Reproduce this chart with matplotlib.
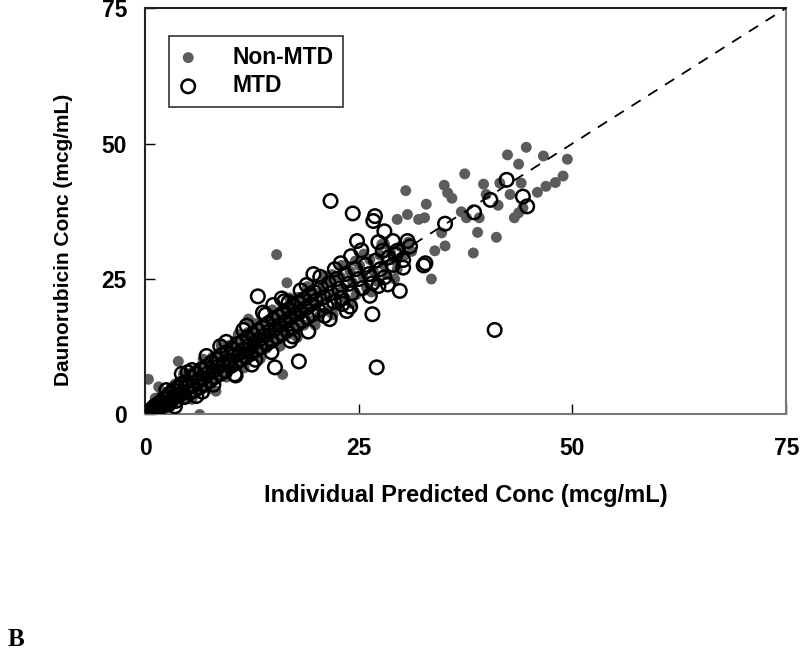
import matplotlib
matplotlib.use('Agg')
import matplotlib.pyplot as plt

plt.rcParams['font.family'] = ['Liberation Sans', 'DejaVu Sans']
plt.rcParams['font.weight'] = 'bold'
plt.rcParams['xtick.direction'] = 'in'
plt.rcParams['ytick.direction'] = 'in'
plt.rcParams['xtick.major.pad'] = 16
plt.rcParams['ytick.major.pad'] = 13

# Non-MTD (filled grey): individual predicted vs observed
nonmtd_pred = [0.1, 0.2, 0.3, 0.4, 0.5, 0.6, 0.8, 0.9, 1.0, 1.1, 1.3, 1.4, 1.6, 1.7, 1.9, 2.1, 2.2, 2.4, 2.6, 2.7, 2.9,
               0.4, 1.6, 3.9, 6.4, 5.9, 8.3, 9.0, 3.8, 1.2, 2.5,
               3.1, 3.3, 3.5, 3.7, 4.0, 4.2, 4.4, 4.6, 4.8, 5.0, 5.2, 5.4, 5.6, 5.8, 6.1, 6.3, 6.5, 6.7, 6.9, 7.1,
               7.3, 7.5, 7.7, 7.9, 8.1, 8.4, 8.6, 8.8, 9.2, 9.4, 9.6, 9.8,
               10.1, 10.3, 10.5, 10.8, 11.0, 11.3, 11.5, 11.8, 12.0, 12.3, 12.5, 12.8, 13.0, 13.3, 13.6, 13.9,
               14.2, 14.4, 14.7, 15.0, 15.3, 15.6, 15.9, 16.2, 16.5, 16.8, 17.1, 17.4, 17.7, 18.0, 18.3, 18.6,
               18.9, 19.2, 19.5, 19.8,
               20.1, 20.4, 20.8, 21.1, 21.4, 21.8, 22.1, 22.5, 22.9, 23.2, 23.6, 24.0, 24.3, 24.7, 25.1, 25.5,
               25.9, 26.3, 26.7, 27.1, 27.5, 27.9, 28.3, 28.7, 29.1, 29.5, 29.9, 30.3, 30.8, 31.2,
               12.1, 15.4, 16.6, 16.1, 30.5, 29.5, 30.7, 32.0, 32.7, 32.9, 33.5, 33.9, 34.7, 35.1,
               35.0, 35.4, 35.9, 37.0, 37.4, 37.6, 38.4, 38.9, 39.1, 39.6, 39.9, 41.1, 41.3, 41.5,
               42.4, 42.7, 43.2, 43.7, 43.7, 44.0, 44.2, 44.6, 45.9, 46.6, 46.9, 48.0, 48.9, 49.4,
               7.0, 10.6, 13.4, 17.9, 21.9, 24.6, 27.7,
               2.0, 3.0, 4.5, 5.5, 6.8, 7.5, 8.9, 9.5, 10.9, 11.6, 12.7, 13.5, 14.9, 15.8, 16.9, 17.8,
               19.0, 19.9, 21.0, 22.0, 23.0, 24.2, 25.6, 26.5, 28.0, 29.2]
nonmtd_obs = [0.2, 0.1, 0.6, 0.3, 1.0, 0.4, 1.5, 0.6, 1.8, 0.9, 2.3, 1.1, 2.8, 1.4, 2.2, 3.4, 1.8, 3.0, 4.0, 2.1, 3.2,
              6.5, 5.1, 9.8, 0.0, 4.0, 4.3, 8.2, 3.1, 3.0, 1.2,
              4.9, 3.0, 5.6, 2.8, 6.0, 4.1, 2.9, 6.7, 4.4, 7.1, 5.0, 3.9, 7.9, 5.5, 8.4, 6.2, 4.9, 9.2, 6.8, 5.6,
              9.9, 7.6, 6.1, 10.6, 8.3, 6.8, 11.3, 9.0, 12.0, 9.6, 8.0, 12.7,
              10.4, 8.7, 13.6, 11.0, 9.4, 14.3, 11.9, 10.0, 15.1, 12.6, 10.9, 15.7, 13.4, 11.5, 16.6, 14.2,
              12.2, 17.4, 15.1, 13.2, 18.1, 16.0, 13.9, 19.0, 16.9, 14.8, 19.8, 17.7, 15.6, 20.6, 18.6, 16.5,
              21.5, 19.5, 17.3, 22.4,
              20.4, 18.2, 23.3, 21.3, 19.1, 24.4, 22.2, 20.0, 25.3, 23.2, 21.2, 26.4, 24.3, 22.1, 27.5, 25.4,
              23.4, 28.6, 26.5, 24.6, 29.4, 27.6, 25.8, 30.1, 28.5, 26.8, 31.0, 29.3, 31.8, 30.1,
              17.6, 29.5, 24.3, 7.4, 41.3, 36.0, 36.9, 36.0, 36.3, 38.8, 25.0, 30.2, 33.5, 31.1,
              42.3, 40.9, 39.9, 37.4, 44.4, 36.3, 29.8, 33.6, 36.3, 42.5, 40.6, 32.7, 38.6, 42.7,
              47.9, 40.6, 36.3, 46.2, 37.2, 42.7, 38.1, 49.3, 41.0, 47.7, 42.1, 42.8, 44.0, 47.1,
              9.6, 13.5, 16.9, 21.6, 25.8, 28.3, 31.4,
              4.2, 1.5, 7.5, 2.8, 10.2, 4.8, 12.8, 6.9, 14.8, 8.6, 16.8, 10.3, 19.3, 12.6, 21.5, 14.2,
              23.6, 16.5, 25.5, 18.4, 27.5, 20.5, 29.6, 22.6, 31.5, 25.0]

# MTD (open circles)
mtd_pred = [0.2, 0.3, 0.5, 0.7, 0.8, 1.0, 1.1, 1.3, 1.5, 1.7, 1.9, 2.0, 2.2, 2.4, 2.6, 2.7, 2.9, 3.1, 3.3, 3.4,
            3.6, 3.8, 4.0, 4.2, 4.4, 4.6, 4.8, 5.0, 5.2, 5.4, 5.6, 5.8, 6.0, 6.2, 6.4, 6.6, 6.8, 7.0, 7.2, 7.4,
            7.6, 7.8, 8.0, 8.2, 8.4, 8.6, 8.8, 9.0, 9.2, 9.4, 9.6, 9.8, 10.0, 10.2, 10.4, 10.6, 10.8, 11.0,
            11.2, 11.4, 11.6, 11.8, 12.0, 12.2, 12.4, 12.6, 12.8, 13.0, 13.2, 13.4, 13.6, 13.8, 14.0, 14.2,
            14.4, 14.6, 14.8, 15.0, 15.2, 15.4, 15.6, 15.8, 16.0, 16.2, 16.4, 16.6, 16.8, 17.0, 17.2, 17.4,
            17.6, 17.8, 18.0, 18.2, 18.4, 18.6, 18.8, 19.0, 19.2, 19.4, 19.6, 19.8, 20.0, 20.3, 20.6, 20.9,
            21.2, 21.5, 21.8, 22.1, 22.4, 22.7, 23.0, 23.4, 23.8, 24.2, 24.6, 25.0, 25.4, 25.8, 26.2, 26.6,
            27.0, 27.5, 28.0, 28.5, 29.0, 29.5, 30.2, 31.0,
            5.5, 8.8, 11.5, 14.1, 16.3, 18.9, 12.9, 17.3, 21.0, 23.1,
            2.5, 3.5, 5.0, 6.0, 7.2, 8.0, 9.5, 10.5, 11.9, 12.5, 13.8, 14.8, 16.0, 17.0, 18.2, 19.1,
            20.5, 21.6, 22.9, 24.0, 25.3, 26.3, 27.3, 28.4,
            21.7, 24.3, 26.9, 26.7, 28.0, 24.8, 42.3, 40.4, 44.2, 44.7, 38.5, 35.1, 32.8, 32.6, 29.8, 27.3,
            26.6, 19.7, 13.2, 15.0, 16.8, 18.0, 15.2, 27.1, 40.9, 23.6, 22.2, 24.1, 27.8, 29.0, 30.7, 29.3,
            30.2, 6.7, 4.3, 10.6]
mtd_obs = [0.3, 0.1, 0.6, 0.3, 1.0, 0.7, 1.5, 0.9, 1.9, 1.3, 2.4, 1.5, 2.9, 2.0, 3.2, 1.9, 3.8, 2.6, 4.5, 3.1,
           2.5, 4.9, 3.6, 5.6, 4.1, 3.2, 6.0, 5.0, 4.0, 6.8, 5.3, 4.4, 7.5, 6.1, 5.0, 8.3, 6.7, 5.6, 8.9, 7.6,
           6.2, 9.6, 8.1, 6.9, 10.2, 8.8, 7.5, 11.0, 9.4, 8.0, 11.5, 10.0, 8.9, 12.2, 10.8, 9.4, 13.0, 11.3,
           10.1, 13.4, 12.0, 10.6, 14.2, 12.7, 11.2, 14.8, 13.3, 11.9, 15.5, 13.9, 12.4, 16.1, 14.6, 13.0,
           16.8, 15.3, 13.6, 17.5, 15.8, 14.3, 18.1, 16.5, 14.9, 18.8, 17.1, 15.5, 19.4, 17.8, 16.0, 20.0,
           18.4, 16.7, 20.6, 19.0, 17.3, 21.3, 19.6, 17.9, 22.0, 20.3, 18.5, 22.6, 21.0, 19.2, 23.4, 21.6,
           20.0, 24.2, 22.4, 20.8, 25.0, 23.2, 21.5, 25.9, 24.1, 22.4, 26.8, 25.0, 23.3, 27.6, 25.9, 24.2,
           28.4, 26.8, 25.3, 29.0, 27.6, 30.2, 28.5, 31.0,
           8.2, 12.6, 15.6, 18.4, 20.9, 23.9, 10.1, 14.4, 18.2, 20.4,
           4.5, 1.5, 7.8, 3.4, 10.8, 5.5, 13.4, 7.4, 16.4, 9.2, 18.8, 11.5, 21.4, 13.6, 22.9, 15.3,
           25.4, 17.6, 27.9, 19.9, 30.3, 21.9, 31.8, 24.0,
           39.4, 37.1, 36.6, 35.7, 33.8, 32.0, 43.3, 39.6, 40.2, 38.4, 37.3, 35.2, 27.9, 27.5, 22.8, 23.7,
           18.5, 25.9, 21.8, 20.2, 20.7, 9.8, 8.7, 8.7, 15.6, 19.1, 26.8, 29.2, 30.2, 32.0, 32.0, 29.5,
           27.1, 4.2, 7.5, 7.2]

identity = [0, 75]
ticks = [0, 25, 50, 75]

fig = plt.figure(figsize=(8, 6.51), dpi=100)
ax = fig.add_axes([0.18125, 0.3633, 0.8015, 0.6244])

ax.scatter(nonmtd_pred, nonmtd_obs, s=62, c='#5c5c5c', edgecolors='none', label='Non-MTD', zorder=2)
ax.scatter(mtd_pred, mtd_obs, s=95, facecolors='none', edgecolors='black', linewidths=1.8,
           label='MTD', zorder=3)
ax.plot(identity, identity, color='black', lw=1.3, linestyle=(0, (6, 5)), zorder=4)

ax.set_xlim(0, 75)
ax.set_ylim(0, 75)
ax.set_xticks(ticks)
ax.set_yticks(ticks)
ax.tick_params(length=7, width=1, labelsize=16.5)
for lab in ax.get_xticklabels() + ax.get_yticklabels():
    lab.set_fontweight('bold')

for side in ['left', 'top']:
    ax.spines[side].set_color('#222222')
for side in ['bottom', 'right']:
    ax.spines[side].set_color('#777777')
for sp in ax.spines.values():
    sp.set_linewidth(1.5)

ax.set_xlabel('Individual Predicted Conc (mcg/mL)', fontsize=17, fontweight='bold')
ax.set_ylabel('Daunorubicin Conc (mcg/mL)', fontsize=15, fontweight='bold')
ax.xaxis.set_label_coords(0.5, -0.17)
ax.yaxis.set_label_coords(-0.113, 0.43)

leg = ax.legend(loc='upper left', bbox_to_anchor=(0.037, 0.93), borderaxespad=0,
                prop={'size': 16.5, 'weight': 'bold'}, fancybox=False, edgecolor='#333333',
                handlelength=0.9, handletextpad=1.5, labelspacing=0.25, borderpad=0.4,
                framealpha=1)
leg.get_frame().set_linewidth(1.2)

fig.text(0.01, 0.0, 'B', fontsize=18, fontweight='bold', family='Liberation Serif',
         ha='left', va='bottom')

fig.savefig('out.png', dpi=100)
